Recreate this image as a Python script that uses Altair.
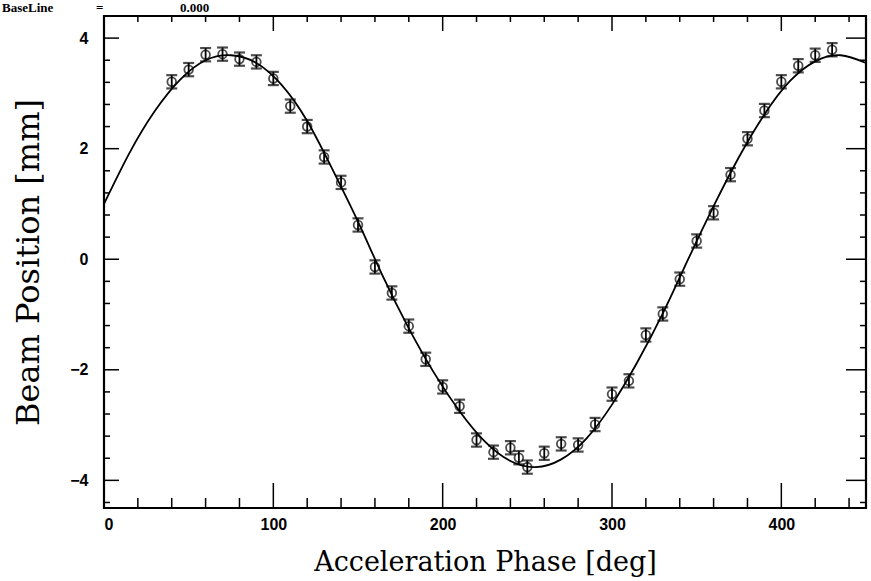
import altair as alt
import pandas as pd

# ---- data ----
phase = [40, 50, 60, 70, 80, 90, 100, 110, 120, 130,
         140, 150, 160, 170, 180, 190, 200, 210, 220, 230,
         240, 245, 250,
         260, 270, 280, 290, 300, 310, 320, 330, 340, 350,
         360, 370, 380, 390, 400, 410, 420, 430]
position = [3.21, 3.43, 3.70, 3.71, 3.62, 3.57, 3.27, 2.77, 2.40, 1.85,
            1.39, 0.62, -0.14, -0.61, -1.21, -1.81, -2.31, -2.66, -3.27, -3.49,
            -3.41, -3.59, -3.76,
            -3.51, -3.34, -3.36, -2.99, -2.44, -2.20, -1.37, -0.99, -0.36, 0.33,
            0.84, 1.53, 2.18, 2.69, 3.21, 3.50, 3.69, 3.79]
err_half = 0.12

fit_phase = [0, 15, 30, 45, 60, 75, 90, 105, 120, 135, 150, 165, 180, 195, 210,
             225, 240, 255, 270, 285, 300, 315, 330, 345, 360, 375, 390, 405,
             420, 435, 450]
fit_pos = [1.00, 1.92, 2.68, 3.25, 3.60, 3.69, 3.55, 3.15, 2.50, 1.62, 0.68,
           -0.33, -1.25, -2.06, -2.75, -3.30, -3.65, -3.76, -3.62, -3.24, -2.63,
           -1.86, -0.98, 0.00, 0.96, 1.85, 2.62, 3.22, 3.58, 3.69, 3.55]

x_major = [100, 200, 300, 400]
x_minor = [20, 40, 60, 80, 120, 140, 160, 180, 220, 240, 260, 280,
           320, 340, 360, 380, 420, 440]
y_major = [-4, -2, 0, 2, 4]
y_minor = [-4.4, -3.6, -3.2, -2.8, -2.4, -1.6, -1.2, -0.8, -0.4,
           0.4, 0.8, 1.2, 1.6, 2.4, 2.8, 3.2, 3.6]
x_labels = [0, 100, 200, 300, 400]
y_labels = [-4, -2, 0, 2, 4]
header = ["BaseLine", "=", "0.000"]

W, H = 762, 492
PL, PT = 104, 16

xs = alt.Scale(domain=[0, 450], nice=False, zero=False)
ys = alt.Scale(domain=[-4.5, 4.4], nice=False, zero=False)

x_axis = alt.Axis(values=x_labels, format="d", ticks=False, domain=False, grid=False,
                  labelFont="Liberation Sans", labelFontWeight="bold",
                  labelFontSize=16, labelPadding=8, labelColor="black",
                  title="Acceleration Phase [deg]", titleFont="DejaVu Serif",
                  titleFontSize=27, titleFontWeight="normal", titleColor="black",
                  titlePadding=17)
y_axis = alt.Axis(values=y_labels, format="d", ticks=False, domain=False, grid=False,
                  labelFont="Liberation Sans", labelFontWeight="bold",
                  labelFontSize=16, labelPadding=16, labelColor="black",
                  title="Beam Position [mm]", titleFont="DejaVu Serif",
                  titleFontSize=32, titleFontWeight="normal", titleColor="black",
                  titlePadding=24)

pts = pd.DataFrame({"x": phase, "y": position})
pts["lo"] = pts["y"] - err_half
pts["hi"] = pts["y"] + err_half
fit = pd.DataFrame({"x": fit_phase, "y": fit_pos})

curve = alt.Chart(fit).mark_line(color="black", strokeWidth=1.8,
                                 interpolate="natural").encode(
    x=alt.X("x:Q", scale=xs, axis=x_axis),
    y=alt.Y("y:Q", scale=ys, axis=y_axis),
)

bars = alt.Chart(pts).mark_rule(color="black", strokeWidth=1.8).encode(
    x=alt.X("x:Q", scale=xs), y=alt.Y("lo:Q", scale=ys), y2="hi:Q")
cap_lo = alt.Chart(pts).mark_tick(color="black", orient="horizontal",
                                  size=11, thickness=2.2).encode(
    x=alt.X("x:Q", scale=xs), y=alt.Y("lo:Q", scale=ys))
cap_hi = alt.Chart(pts).mark_tick(color="black", orient="horizontal",
                                  size=11, thickness=2.2).encode(
    x=alt.X("x:Q", scale=xs), y=alt.Y("hi:Q", scale=ys))
circles = alt.Chart(pts).mark_point(shape="circle", filled=False, size=75,
                                    color="black", strokeWidth=1.8).encode(
    x=alt.X("x:Q", scale=xs), y=alt.Y("y:Q", scale=ys))

xmaj = pd.DataFrame({"x": x_major})
xmin = pd.DataFrame({"x": x_minor})
ymaj = pd.DataFrame({"y": y_major})
ymin = pd.DataFrame({"y": y_minor})


def xtick(df, y0, y1):
    return alt.Chart(df).mark_rule(color="black", strokeWidth=1.5).encode(
        x=alt.X("x:Q", scale=xs), y=alt.value(y0), y2=alt.value(y1))


def ytick(df, x0, x1):
    return alt.Chart(df).mark_rule(color="black", strokeWidth=1.5).encode(
        y=alt.Y("y:Q", scale=ys), x=alt.value(x0), x2=alt.value(x1))


ticks = [
    xtick(xmaj, H, H - 25), xtick(xmin, H, H - 10),
    xtick(xmaj, 0, 15), xtick(xmin, 0, 6),
    ytick(ymaj, 0, 15), ytick(ymin, 0, 6),
    ytick(ymaj, W, W - 20), ytick(ymin, W, W - 6),
]

head_x = [2 - PL, 96 - PL, 180 - PL]
heads = []
for label, hx in zip(header, head_x):
    heads.append(
        alt.Chart(pd.DataFrame({"t": [label]})).mark_text(
            align="left", baseline="alphabetic", font="Liberation Serif",
            fontSize=13, fontWeight="bold", color="black").encode(
            text="t:N", x=alt.value(hx), y=alt.value(12 - PT))
    )

chart = alt.layer(curve, *ticks, bars, cap_lo, cap_hi, circles, *heads).properties(
    width=W, height=H,
    padding={"left": PL, "top": PT, "right": 871 - PL - W, "bottom": 581 - PT - H},
    autosize="none",
    background="white",
).configure_view(stroke="black", strokeWidth=2.2)

chart.save("out.html", embed_options={"renderer": "svg", "actions": False})
